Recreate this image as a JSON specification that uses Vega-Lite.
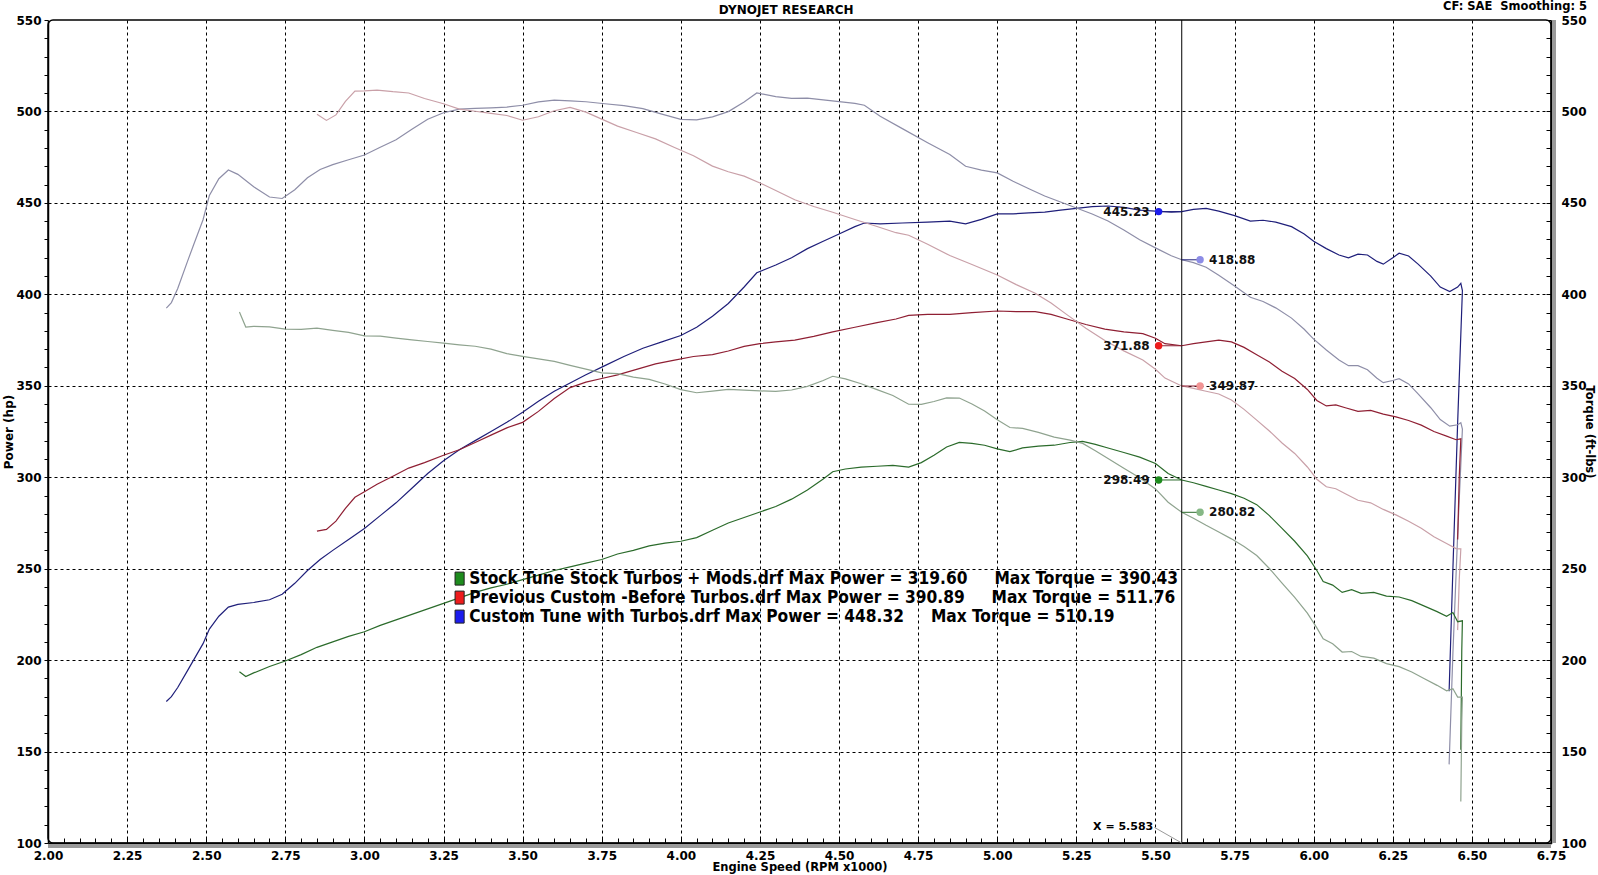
{
"$schema": "https://vega.github.io/schema/vega-lite/v6.json",
"width": 1503, "height": 823,
"autosize": {"type": "none"},
"padding": {"left": 48, "top": 20, "right": 47, "bottom": 32},
"background": "white",
"config": {
  "view": {"stroke": "#000", "strokeWidth": 1.5, "cornerRadius": 5},
  "font": "DejaVu Sans",
  "axis": {"labelFont": "DejaVu Sans", "labelFontWeight": "bold", "labelFontSize": 12, "labelColor": "#000", "titleFont": "DejaVu Sans", "titleFontWeight": "bold", "titleFontSize": 12, "titleColor": "#000", "tickColor": "#000", "domainColor": "#000", "labelOverlap": false, "labelFlush": false}
},
"datasets": {
"curves": [
{"series":"Turbo HP","rpm":2.374,"value":177.4},{"series":"Turbo HP","rpm":2.39,"value":180},{"series":"Turbo HP","rpm":2.41,"value":185},{"series":"Turbo HP","rpm":2.44,"value":194},{"series":"Turbo HP","rpm":2.46,"value":200},{"series":"Turbo HP","rpm":2.49,"value":209},{"series":"Turbo HP","rpm":2.51,"value":217},{"series":"Turbo HP","rpm":2.54,"value":224},{"series":"Turbo HP","rpm":2.57,"value":229},{"series":"Turbo HP","rpm":2.6,"value":230.5},{"series":"Turbo HP","rpm":2.65,"value":231.5},{"series":"Turbo HP","rpm":2.7,"value":233},{"series":"Turbo HP","rpm":2.74,"value":236},{"series":"Turbo HP","rpm":2.78,"value":242},{"series":"Turbo HP","rpm":2.82,"value":249},{"series":"Turbo HP","rpm":2.86,"value":255},{"series":"Turbo HP","rpm":2.9,"value":260},{"series":"Turbo HP","rpm":2.95,"value":266},{"series":"Turbo HP","rpm":3.0,"value":272},{"series":"Turbo HP","rpm":3.05,"value":279},{"series":"Turbo HP","rpm":3.1,"value":286},{"series":"Turbo HP","rpm":3.15,"value":294},{"series":"Turbo HP","rpm":3.2,"value":302},{"series":"Turbo HP","rpm":3.25,"value":309},{"series":"Turbo HP","rpm":3.3,"value":315},{"series":"Turbo HP","rpm":3.35,"value":320},{"series":"Turbo HP","rpm":3.4,"value":325},{"series":"Turbo HP","rpm":3.45,"value":330},{"series":"Turbo HP","rpm":3.5,"value":335.5},{"series":"Turbo HP","rpm":3.55,"value":341.5},{"series":"Turbo HP","rpm":3.6,"value":347},{"series":"Turbo HP","rpm":3.65,"value":351.5},{"series":"Turbo HP","rpm":3.7,"value":356},{"series":"Turbo HP","rpm":3.76,"value":361},{"series":"Turbo HP","rpm":3.82,"value":366},{"series":"Turbo HP","rpm":3.88,"value":370.5},{"series":"Turbo HP","rpm":3.94,"value":374},{"series":"Turbo HP","rpm":4.0,"value":377.5},{"series":"Turbo HP","rpm":4.05,"value":382},{"series":"Turbo HP","rpm":4.1,"value":388},{"series":"Turbo HP","rpm":4.15,"value":395},{"series":"Turbo HP","rpm":4.2,"value":404},{"series":"Turbo HP","rpm":4.24,"value":411.8},{"series":"Turbo HP","rpm":4.3,"value":416},{"series":"Turbo HP","rpm":4.35,"value":420},{"series":"Turbo HP","rpm":4.4,"value":425},{"series":"Turbo HP","rpm":4.45,"value":429},{"series":"Turbo HP","rpm":4.5,"value":433},{"series":"Turbo HP","rpm":4.55,"value":437},{"series":"Turbo HP","rpm":4.58,"value":439},{"series":"Turbo HP","rpm":4.63,"value":438.5},{"series":"Turbo HP","rpm":4.7,"value":439},{"series":"Turbo HP","rpm":4.78,"value":439.5},{"series":"Turbo HP","rpm":4.85,"value":440},{"series":"Turbo HP","rpm":4.9,"value":438.5},{"series":"Turbo HP","rpm":4.95,"value":441},{"series":"Turbo HP","rpm":5.0,"value":444},{"series":"Turbo HP","rpm":5.05,"value":444},{"series":"Turbo HP","rpm":5.1,"value":444.5},{"series":"Turbo HP","rpm":5.15,"value":445},{"series":"Turbo HP","rpm":5.2,"value":446},{"series":"Turbo HP","rpm":5.25,"value":447},{"series":"Turbo HP","rpm":5.3,"value":448},{"series":"Turbo HP","rpm":5.35,"value":448.3},{"series":"Turbo HP","rpm":5.4,"value":447.5},{"series":"Turbo HP","rpm":5.45,"value":446},{"series":"Turbo HP","rpm":5.5,"value":445.5},{"series":"Turbo HP","rpm":5.55,"value":445},{"series":"Turbo HP","rpm":5.583,"value":445.2},{"series":"Turbo HP","rpm":5.62,"value":446.5},{"series":"Turbo HP","rpm":5.66,"value":447},{"series":"Turbo HP","rpm":5.7,"value":445.5},{"series":"Turbo HP","rpm":5.75,"value":443},{"series":"Turbo HP","rpm":5.8,"value":440},{"series":"Turbo HP","rpm":5.84,"value":440.5},{"series":"Turbo HP","rpm":5.88,"value":439.5},{"series":"Turbo HP","rpm":5.93,"value":437},{"series":"Turbo HP","rpm":5.97,"value":433},{"series":"Turbo HP","rpm":6.0,"value":429},{"series":"Turbo HP","rpm":6.04,"value":425},{"series":"Turbo HP","rpm":6.08,"value":421.5},{"series":"Turbo HP","rpm":6.11,"value":420},{"series":"Turbo HP","rpm":6.14,"value":422},{"series":"Turbo HP","rpm":6.17,"value":421.5},{"series":"Turbo HP","rpm":6.2,"value":418},{"series":"Turbo HP","rpm":6.22,"value":416.5},{"series":"Turbo HP","rpm":6.25,"value":420},{"series":"Turbo HP","rpm":6.27,"value":422.5},{"series":"Turbo HP","rpm":6.3,"value":421},{"series":"Turbo HP","rpm":6.33,"value":416.5},{"series":"Turbo HP","rpm":6.37,"value":410},{"series":"Turbo HP","rpm":6.4,"value":404},{"series":"Turbo HP","rpm":6.43,"value":401.5},{"series":"Turbo HP","rpm":6.455,"value":404},{"series":"Turbo HP","rpm":6.465,"value":406},{"series":"Turbo HP","rpm":6.47,"value":402},{"series":"Turbo HP","rpm":6.455,"value":330},{"series":"Turbo HP","rpm":6.44,"value":250},{"series":"Turbo HP","rpm":6.428,"value":183},
{"series":"Turbo TQ","rpm":2.374,"value":392.5},{"series":"Turbo TQ","rpm":2.39,"value":395.5},{"series":"Turbo TQ","rpm":2.41,"value":403.2},{"series":"Turbo TQ","rpm":2.44,"value":417.6},{"series":"Turbo TQ","rpm":2.46,"value":427.0},{"series":"Turbo TQ","rpm":2.49,"value":440.8},{"series":"Turbo TQ","rpm":2.51,"value":454.1},{"series":"Turbo TQ","rpm":2.54,"value":463.2},{"series":"Turbo TQ","rpm":2.57,"value":468.0},{"series":"Turbo TQ","rpm":2.6,"value":465.6},{"series":"Turbo TQ","rpm":2.65,"value":458.8},{"series":"Turbo TQ","rpm":2.7,"value":453.2},{"series":"Turbo TQ","rpm":2.74,"value":452.4},{"series":"Turbo TQ","rpm":2.78,"value":457.2},{"series":"Turbo TQ","rpm":2.82,"value":463.7},{"series":"Turbo TQ","rpm":2.86,"value":468.3},{"series":"Turbo TQ","rpm":2.9,"value":470.9},{"series":"Turbo TQ","rpm":2.95,"value":473.6},{"series":"Turbo TQ","rpm":3.0,"value":476.2},{"series":"Turbo TQ","rpm":3.05,"value":480.4},{"series":"Turbo TQ","rpm":3.1,"value":484.5},{"series":"Turbo TQ","rpm":3.15,"value":490.2},{"series":"Turbo TQ","rpm":3.2,"value":495.7},{"series":"Turbo TQ","rpm":3.25,"value":499.3},{"series":"Turbo TQ","rpm":3.3,"value":501.3},{"series":"Turbo TQ","rpm":3.35,"value":501.7},{"series":"Turbo TQ","rpm":3.4,"value":502.0},{"series":"Turbo TQ","rpm":3.45,"value":502.4},{"series":"Turbo TQ","rpm":3.5,"value":503.4},{"series":"Turbo TQ","rpm":3.55,"value":505.2},{"series":"Turbo TQ","rpm":3.6,"value":506.2},{"series":"Turbo TQ","rpm":3.65,"value":505.8},{"series":"Turbo TQ","rpm":3.7,"value":505.3},{"series":"Turbo TQ","rpm":3.76,"value":504.2},{"series":"Turbo TQ","rpm":3.82,"value":503.2},{"series":"Turbo TQ","rpm":3.88,"value":501.5},{"series":"Turbo TQ","rpm":3.94,"value":498.5},{"series":"Turbo TQ","rpm":4.0,"value":495.7},{"series":"Turbo TQ","rpm":4.05,"value":495.4},{"series":"Turbo TQ","rpm":4.1,"value":497.0},{"series":"Turbo TQ","rpm":4.15,"value":499.9},{"series":"Turbo TQ","rpm":4.2,"value":505.2},{"series":"Turbo TQ","rpm":4.24,"value":510.1},{"series":"Turbo TQ","rpm":4.3,"value":508.1},{"series":"Turbo TQ","rpm":4.35,"value":507.1},{"series":"Turbo TQ","rpm":4.4,"value":507.3},{"series":"Turbo TQ","rpm":4.45,"value":506.3},{"series":"Turbo TQ","rpm":4.5,"value":505.4},{"series":"Turbo TQ","rpm":4.55,"value":504.4},{"series":"Turbo TQ","rpm":4.58,"value":503.4},{"series":"Turbo TQ","rpm":4.63,"value":497.4},{"series":"Turbo TQ","rpm":4.7,"value":490.6},{"series":"Turbo TQ","rpm":4.78,"value":482.9},{"series":"Turbo TQ","rpm":4.85,"value":476.5},{"series":"Turbo TQ","rpm":4.9,"value":470.0},{"series":"Turbo TQ","rpm":4.95,"value":467.9},{"series":"Turbo TQ","rpm":5.0,"value":466.4},{"series":"Turbo TQ","rpm":5.05,"value":461.8},{"series":"Turbo TQ","rpm":5.1,"value":457.7},{"series":"Turbo TQ","rpm":5.15,"value":453.8},{"series":"Turbo TQ","rpm":5.2,"value":450.5},{"series":"Turbo TQ","rpm":5.25,"value":447.2},{"series":"Turbo TQ","rpm":5.3,"value":443.9},{"series":"Turbo TQ","rpm":5.35,"value":440.1},{"series":"Turbo TQ","rpm":5.4,"value":435.2},{"series":"Turbo TQ","rpm":5.45,"value":429.8},{"series":"Turbo TQ","rpm":5.5,"value":425.4},{"series":"Turbo TQ","rpm":5.55,"value":421.1},{"series":"Turbo TQ","rpm":5.583,"value":418.9},{"series":"Turbo TQ","rpm":5.62,"value":417.3},{"series":"Turbo TQ","rpm":5.66,"value":414.8},{"series":"Turbo TQ","rpm":5.7,"value":410.5},{"series":"Turbo TQ","rpm":5.75,"value":404.6},{"series":"Turbo TQ","rpm":5.8,"value":398.4},{"series":"Turbo TQ","rpm":5.84,"value":396.1},{"series":"Turbo TQ","rpm":5.88,"value":392.6},{"series":"Turbo TQ","rpm":5.93,"value":387.0},{"series":"Turbo TQ","rpm":5.97,"value":380.9},{"series":"Turbo TQ","rpm":6.0,"value":375.5},{"series":"Turbo TQ","rpm":6.04,"value":369.6},{"series":"Turbo TQ","rpm":6.08,"value":364.1},{"series":"Turbo TQ","rpm":6.11,"value":361.0},{"series":"Turbo TQ","rpm":6.14,"value":361.0},{"series":"Turbo TQ","rpm":6.17,"value":358.8},{"series":"Turbo TQ","rpm":6.2,"value":354.1},{"series":"Turbo TQ","rpm":6.22,"value":351.7},{"series":"Turbo TQ","rpm":6.25,"value":352.9},{"series":"Turbo TQ","rpm":6.27,"value":353.9},{"series":"Turbo TQ","rpm":6.3,"value":351.0},{"series":"Turbo TQ","rpm":6.33,"value":345.6},{"series":"Turbo TQ","rpm":6.37,"value":338.0},{"series":"Turbo TQ","rpm":6.4,"value":331.5},{"series":"Turbo TQ","rpm":6.43,"value":327.9},{"series":"Turbo TQ","rpm":6.455,"value":328.7},{"series":"Turbo TQ","rpm":6.465,"value":329.8},{"series":"Turbo TQ","rpm":6.47,"value":326.3},{"series":"Turbo TQ","rpm":6.455,"value":268.5},{"series":"Turbo TQ","rpm":6.44,"value":203.9},{"series":"Turbo TQ","rpm":6.428,"value":143},
{"series":"Prev HP","rpm":2.85,"value":270.5},{"series":"Prev HP","rpm":2.88,"value":271.5},{"series":"Prev HP","rpm":2.91,"value":276},{"series":"Prev HP","rpm":2.94,"value":283},{"series":"Prev HP","rpm":2.97,"value":289},{"series":"Prev HP","rpm":3.0,"value":292},{"series":"Prev HP","rpm":3.04,"value":296.2},{"series":"Prev HP","rpm":3.09,"value":300.5},{"series":"Prev HP","rpm":3.14,"value":305},{"series":"Prev HP","rpm":3.19,"value":308},{"series":"Prev HP","rpm":3.25,"value":312},{"series":"Prev HP","rpm":3.3,"value":315},{"series":"Prev HP","rpm":3.35,"value":319},{"series":"Prev HP","rpm":3.4,"value":323},{"series":"Prev HP","rpm":3.45,"value":327},{"series":"Prev HP","rpm":3.5,"value":330},{"series":"Prev HP","rpm":3.55,"value":336},{"series":"Prev HP","rpm":3.6,"value":343},{"series":"Prev HP","rpm":3.65,"value":349},{"series":"Prev HP","rpm":3.7,"value":352},{"series":"Prev HP","rpm":3.75,"value":354},{"series":"Prev HP","rpm":3.8,"value":356},{"series":"Prev HP","rpm":3.86,"value":359},{"series":"Prev HP","rpm":3.92,"value":362},{"series":"Prev HP","rpm":3.98,"value":364},{"series":"Prev HP","rpm":4.04,"value":366},{"series":"Prev HP","rpm":4.1,"value":367},{"series":"Prev HP","rpm":4.15,"value":369},{"series":"Prev HP","rpm":4.2,"value":371.5},{"series":"Prev HP","rpm":4.25,"value":373},{"series":"Prev HP","rpm":4.3,"value":374},{"series":"Prev HP","rpm":4.36,"value":375},{"series":"Prev HP","rpm":4.42,"value":377},{"series":"Prev HP","rpm":4.48,"value":379.5},{"series":"Prev HP","rpm":4.55,"value":382},{"series":"Prev HP","rpm":4.62,"value":384.5},{"series":"Prev HP","rpm":4.68,"value":386.5},{"series":"Prev HP","rpm":4.72,"value":388.5},{"series":"Prev HP","rpm":4.78,"value":389},{"series":"Prev HP","rpm":4.85,"value":389},{"series":"Prev HP","rpm":4.92,"value":390},{"series":"Prev HP","rpm":5.0,"value":390.9},{"series":"Prev HP","rpm":5.06,"value":390.5},{"series":"Prev HP","rpm":5.12,"value":390.5},{"series":"Prev HP","rpm":5.17,"value":389},{"series":"Prev HP","rpm":5.22,"value":386.5},{"series":"Prev HP","rpm":5.28,"value":383.5},{"series":"Prev HP","rpm":5.34,"value":381},{"series":"Prev HP","rpm":5.4,"value":379.5},{"series":"Prev HP","rpm":5.46,"value":378.5},{"series":"Prev HP","rpm":5.5,"value":376},{"series":"Prev HP","rpm":5.53,"value":373},{"series":"Prev HP","rpm":5.583,"value":371.9},{"series":"Prev HP","rpm":5.62,"value":373},{"series":"Prev HP","rpm":5.66,"value":374},{"series":"Prev HP","rpm":5.7,"value":375},{"series":"Prev HP","rpm":5.74,"value":374},{"series":"Prev HP","rpm":5.78,"value":371},{"series":"Prev HP","rpm":5.82,"value":367},{"series":"Prev HP","rpm":5.86,"value":363},{"series":"Prev HP","rpm":5.9,"value":358},{"series":"Prev HP","rpm":5.94,"value":354},{"series":"Prev HP","rpm":5.98,"value":348},{"series":"Prev HP","rpm":6.01,"value":342},{"series":"Prev HP","rpm":6.04,"value":339},{"series":"Prev HP","rpm":6.07,"value":339.5},{"series":"Prev HP","rpm":6.1,"value":338},{"series":"Prev HP","rpm":6.14,"value":336},{"series":"Prev HP","rpm":6.18,"value":336.5},{"series":"Prev HP","rpm":6.22,"value":334.5},{"series":"Prev HP","rpm":6.26,"value":333},{"series":"Prev HP","rpm":6.3,"value":331},{"series":"Prev HP","rpm":6.34,"value":328.5},{"series":"Prev HP","rpm":6.38,"value":325},{"series":"Prev HP","rpm":6.42,"value":322.5},{"series":"Prev HP","rpm":6.45,"value":320.5},{"series":"Prev HP","rpm":6.465,"value":321},{"series":"Prev HP","rpm":6.46,"value":300},{"series":"Prev HP","rpm":6.455,"value":266},
{"series":"Prev TQ","rpm":2.85,"value":498.5},{"series":"Prev TQ","rpm":2.88,"value":495.1},{"series":"Prev TQ","rpm":2.91,"value":498.1},{"series":"Prev TQ","rpm":2.94,"value":505.5},{"series":"Prev TQ","rpm":2.97,"value":511.1},{"series":"Prev TQ","rpm":3.0,"value":511.2},{"series":"Prev TQ","rpm":3.04,"value":511.7},{"series":"Prev TQ","rpm":3.09,"value":510.8},{"series":"Prev TQ","rpm":3.14,"value":510.1},{"series":"Prev TQ","rpm":3.19,"value":507.1},{"series":"Prev TQ","rpm":3.25,"value":504.2},{"series":"Prev TQ","rpm":3.3,"value":501.3},{"series":"Prev TQ","rpm":3.35,"value":500.1},{"series":"Prev TQ","rpm":3.4,"value":498.9},{"series":"Prev TQ","rpm":3.45,"value":497.8},{"series":"Prev TQ","rpm":3.5,"value":495.2},{"series":"Prev TQ","rpm":3.55,"value":497.1},{"series":"Prev TQ","rpm":3.6,"value":500.4},{"series":"Prev TQ","rpm":3.65,"value":502.2},{"series":"Prev TQ","rpm":3.7,"value":499.6},{"series":"Prev TQ","rpm":3.75,"value":495.8},{"series":"Prev TQ","rpm":3.8,"value":492.0},{"series":"Prev TQ","rpm":3.86,"value":488.5},{"series":"Prev TQ","rpm":3.92,"value":485.0},{"series":"Prev TQ","rpm":3.98,"value":480.3},{"series":"Prev TQ","rpm":4.04,"value":475.8},{"series":"Prev TQ","rpm":4.1,"value":470.1},{"series":"Prev TQ","rpm":4.15,"value":467.0},{"series":"Prev TQ","rpm":4.2,"value":464.6},{"series":"Prev TQ","rpm":4.25,"value":460.9},{"series":"Prev TQ","rpm":4.3,"value":456.8},{"series":"Prev TQ","rpm":4.36,"value":451.7},{"series":"Prev TQ","rpm":4.42,"value":448.0},{"series":"Prev TQ","rpm":4.48,"value":444.9},{"series":"Prev TQ","rpm":4.55,"value":440.9},{"series":"Prev TQ","rpm":4.62,"value":437.1},{"series":"Prev TQ","rpm":4.68,"value":433.7},{"series":"Prev TQ","rpm":4.72,"value":432.3},{"series":"Prev TQ","rpm":4.78,"value":427.4},{"series":"Prev TQ","rpm":4.85,"value":421.2},{"series":"Prev TQ","rpm":4.92,"value":416.3},{"series":"Prev TQ","rpm":5.0,"value":410.6},{"series":"Prev TQ","rpm":5.06,"value":405.3},{"series":"Prev TQ","rpm":5.12,"value":400.6},{"series":"Prev TQ","rpm":5.17,"value":395.2},{"series":"Prev TQ","rpm":5.22,"value":388.9},{"series":"Prev TQ","rpm":5.28,"value":381.5},{"series":"Prev TQ","rpm":5.34,"value":374.7},{"series":"Prev TQ","rpm":5.4,"value":369.1},{"series":"Prev TQ","rpm":5.46,"value":364.1},{"series":"Prev TQ","rpm":5.5,"value":359.0},{"series":"Prev TQ","rpm":5.53,"value":354.2},{"series":"Prev TQ","rpm":5.583,"value":349.9},{"series":"Prev TQ","rpm":5.62,"value":348.6},{"series":"Prev TQ","rpm":5.66,"value":347.0},{"series":"Prev TQ","rpm":5.7,"value":345.5},{"series":"Prev TQ","rpm":5.74,"value":342.2},{"series":"Prev TQ","rpm":5.78,"value":337.1},{"series":"Prev TQ","rpm":5.82,"value":331.2},{"series":"Prev TQ","rpm":5.86,"value":325.3},{"series":"Prev TQ","rpm":5.9,"value":318.7},{"series":"Prev TQ","rpm":5.94,"value":313.0},{"series":"Prev TQ","rpm":5.98,"value":305.6},{"series":"Prev TQ","rpm":6.01,"value":298.9},{"series":"Prev TQ","rpm":6.04,"value":294.8},{"series":"Prev TQ","rpm":6.07,"value":293.7},{"series":"Prev TQ","rpm":6.1,"value":291.0},{"series":"Prev TQ","rpm":6.14,"value":287.4},{"series":"Prev TQ","rpm":6.18,"value":286.0},{"series":"Prev TQ","rpm":6.22,"value":282.4},{"series":"Prev TQ","rpm":6.26,"value":279.4},{"series":"Prev TQ","rpm":6.3,"value":275.9},{"series":"Prev TQ","rpm":6.34,"value":272.1},{"series":"Prev TQ","rpm":6.38,"value":267.5},{"series":"Prev TQ","rpm":6.42,"value":263.8},{"series":"Prev TQ","rpm":6.45,"value":261.0},{"series":"Prev TQ","rpm":6.465,"value":260.8},{"series":"Prev TQ","rpm":6.46,"value":243.9},{"series":"Prev TQ","rpm":6.455,"value":216.4},
{"series":"Stock HP","rpm":2.605,"value":193.6},{"series":"Stock HP","rpm":2.625,"value":191},{"series":"Stock HP","rpm":2.65,"value":193},{"series":"Stock HP","rpm":2.7,"value":196.5},{"series":"Stock HP","rpm":2.75,"value":199.5},{"series":"Stock HP","rpm":2.8,"value":203},{"series":"Stock HP","rpm":2.85,"value":207},{"series":"Stock HP","rpm":2.9,"value":210},{"series":"Stock HP","rpm":2.95,"value":213},{"series":"Stock HP","rpm":3.0,"value":215.5},{"series":"Stock HP","rpm":3.05,"value":219},{"series":"Stock HP","rpm":3.1,"value":222},{"series":"Stock HP","rpm":3.15,"value":225},{"series":"Stock HP","rpm":3.2,"value":228},{"series":"Stock HP","rpm":3.25,"value":231},{"series":"Stock HP","rpm":3.3,"value":234},{"series":"Stock HP","rpm":3.35,"value":237},{"series":"Stock HP","rpm":3.4,"value":239.5},{"series":"Stock HP","rpm":3.45,"value":241.5},{"series":"Stock HP","rpm":3.5,"value":244},{"series":"Stock HP","rpm":3.55,"value":246.5},{"series":"Stock HP","rpm":3.6,"value":249},{"series":"Stock HP","rpm":3.65,"value":251},{"series":"Stock HP","rpm":3.7,"value":253},{"series":"Stock HP","rpm":3.75,"value":255},{"series":"Stock HP","rpm":3.8,"value":258},{"series":"Stock HP","rpm":3.85,"value":260},{"series":"Stock HP","rpm":3.9,"value":262.5},{"series":"Stock HP","rpm":3.95,"value":264},{"series":"Stock HP","rpm":4.0,"value":265},{"series":"Stock HP","rpm":4.05,"value":267},{"series":"Stock HP","rpm":4.1,"value":271},{"series":"Stock HP","rpm":4.15,"value":275},{"series":"Stock HP","rpm":4.2,"value":278},{"series":"Stock HP","rpm":4.25,"value":281},{"series":"Stock HP","rpm":4.3,"value":284},{"series":"Stock HP","rpm":4.35,"value":288},{"series":"Stock HP","rpm":4.4,"value":293},{"series":"Stock HP","rpm":4.45,"value":299},{"series":"Stock HP","rpm":4.48,"value":303},{"series":"Stock HP","rpm":4.52,"value":304.5},{"series":"Stock HP","rpm":4.57,"value":305.5},{"series":"Stock HP","rpm":4.62,"value":306},{"series":"Stock HP","rpm":4.67,"value":306.5},{"series":"Stock HP","rpm":4.72,"value":305.5},{"series":"Stock HP","rpm":4.76,"value":308},{"series":"Stock HP","rpm":4.8,"value":312},{"series":"Stock HP","rpm":4.84,"value":316.5},{"series":"Stock HP","rpm":4.88,"value":319},{"series":"Stock HP","rpm":4.92,"value":318.5},{"series":"Stock HP","rpm":4.96,"value":317.5},{"series":"Stock HP","rpm":5.0,"value":315.5},{"series":"Stock HP","rpm":5.04,"value":314},{"series":"Stock HP","rpm":5.08,"value":316},{"series":"Stock HP","rpm":5.13,"value":317},{"series":"Stock HP","rpm":5.18,"value":317.5},{"series":"Stock HP","rpm":5.23,"value":319},{"series":"Stock HP","rpm":5.27,"value":319.6},{"series":"Stock HP","rpm":5.31,"value":318},{"series":"Stock HP","rpm":5.35,"value":316},{"series":"Stock HP","rpm":5.4,"value":313.5},{"series":"Stock HP","rpm":5.45,"value":311},{"series":"Stock HP","rpm":5.5,"value":307.5},{"series":"Stock HP","rpm":5.54,"value":302},{"series":"Stock HP","rpm":5.583,"value":298.5},{"series":"Stock HP","rpm":5.62,"value":297},{"series":"Stock HP","rpm":5.66,"value":295},{"series":"Stock HP","rpm":5.7,"value":293},{"series":"Stock HP","rpm":5.74,"value":291},{"series":"Stock HP","rpm":5.78,"value":288.5},{"series":"Stock HP","rpm":5.82,"value":285},{"series":"Stock HP","rpm":5.86,"value":279},{"series":"Stock HP","rpm":5.9,"value":272},{"series":"Stock HP","rpm":5.94,"value":265},{"series":"Stock HP","rpm":5.98,"value":257},{"series":"Stock HP","rpm":6.01,"value":249},{"series":"Stock HP","rpm":6.03,"value":243},{"series":"Stock HP","rpm":6.06,"value":241},{"series":"Stock HP","rpm":6.09,"value":237},{"series":"Stock HP","rpm":6.12,"value":238.5},{"series":"Stock HP","rpm":6.15,"value":236.5},{"series":"Stock HP","rpm":6.19,"value":237},{"series":"Stock HP","rpm":6.23,"value":235},{"series":"Stock HP","rpm":6.27,"value":234.5},{"series":"Stock HP","rpm":6.31,"value":232.5},{"series":"Stock HP","rpm":6.35,"value":229.5},{"series":"Stock HP","rpm":6.39,"value":226.5},{"series":"Stock HP","rpm":6.42,"value":224},{"series":"Stock HP","rpm":6.44,"value":226},{"series":"Stock HP","rpm":6.455,"value":221},{"series":"Stock HP","rpm":6.47,"value":221.5},{"series":"Stock HP","rpm":6.468,"value":205},{"series":"Stock HP","rpm":6.466,"value":170},{"series":"Stock HP","rpm":6.465,"value":151},
{"series":"Stock TQ","rpm":2.605,"value":390.3},{"series":"Stock TQ","rpm":2.625,"value":382.1},{"series":"Stock TQ","rpm":2.65,"value":382.5},{"series":"Stock TQ","rpm":2.7,"value":382.2},{"series":"Stock TQ","rpm":2.75,"value":381.0},{"series":"Stock TQ","rpm":2.8,"value":380.8},{"series":"Stock TQ","rpm":2.85,"value":381.5},{"series":"Stock TQ","rpm":2.9,"value":380.3},{"series":"Stock TQ","rpm":2.95,"value":379.2},{"series":"Stock TQ","rpm":3.0,"value":377.3},{"series":"Stock TQ","rpm":3.05,"value":377.1},{"series":"Stock TQ","rpm":3.1,"value":376.1},{"series":"Stock TQ","rpm":3.15,"value":375.1},{"series":"Stock TQ","rpm":3.2,"value":374.2},{"series":"Stock TQ","rpm":3.25,"value":373.3},{"series":"Stock TQ","rpm":3.3,"value":372.4},{"series":"Stock TQ","rpm":3.35,"value":371.6},{"series":"Stock TQ","rpm":3.4,"value":370.0},{"series":"Stock TQ","rpm":3.45,"value":367.6},{"series":"Stock TQ","rpm":3.5,"value":366.1},{"series":"Stock TQ","rpm":3.55,"value":364.7},{"series":"Stock TQ","rpm":3.6,"value":363.3},{"series":"Stock TQ","rpm":3.65,"value":361.2},{"series":"Stock TQ","rpm":3.7,"value":359.1},{"series":"Stock TQ","rpm":3.75,"value":357.1},{"series":"Stock TQ","rpm":3.8,"value":356.6},{"series":"Stock TQ","rpm":3.85,"value":354.7},{"series":"Stock TQ","rpm":3.9,"value":353.5},{"series":"Stock TQ","rpm":3.95,"value":351.0},{"series":"Stock TQ","rpm":4.0,"value":347.9},{"series":"Stock TQ","rpm":4.05,"value":346.2},{"series":"Stock TQ","rpm":4.1,"value":347.1},{"series":"Stock TQ","rpm":4.15,"value":348.0},{"series":"Stock TQ","rpm":4.2,"value":347.6},{"series":"Stock TQ","rpm":4.25,"value":347.2},{"series":"Stock TQ","rpm":4.3,"value":346.9},{"series":"Stock TQ","rpm":4.35,"value":347.7},{"series":"Stock TQ","rpm":4.4,"value":349.7},{"series":"Stock TQ","rpm":4.45,"value":352.9},{"series":"Stock TQ","rpm":4.48,"value":355.2},{"series":"Stock TQ","rpm":4.52,"value":353.8},{"series":"Stock TQ","rpm":4.57,"value":351.1},{"series":"Stock TQ","rpm":4.62,"value":347.9},{"series":"Stock TQ","rpm":4.67,"value":344.7},{"series":"Stock TQ","rpm":4.72,"value":339.9},{"series":"Stock TQ","rpm":4.76,"value":339.8},{"series":"Stock TQ","rpm":4.8,"value":341.4},{"series":"Stock TQ","rpm":4.84,"value":343.4},{"series":"Stock TQ","rpm":4.88,"value":343.3},{"series":"Stock TQ","rpm":4.92,"value":340.0},{"series":"Stock TQ","rpm":4.96,"value":336.2},{"series":"Stock TQ","rpm":5.0,"value":331.4},{"series":"Stock TQ","rpm":5.04,"value":327.2},{"series":"Stock TQ","rpm":5.08,"value":326.7},{"series":"Stock TQ","rpm":5.13,"value":324.5},{"series":"Stock TQ","rpm":5.18,"value":321.9},{"series":"Stock TQ","rpm":5.23,"value":320.3},{"series":"Stock TQ","rpm":5.27,"value":318.5},{"series":"Stock TQ","rpm":5.31,"value":314.5},{"series":"Stock TQ","rpm":5.35,"value":310.2},{"series":"Stock TQ","rpm":5.4,"value":304.9},{"series":"Stock TQ","rpm":5.45,"value":299.7},{"series":"Stock TQ","rpm":5.5,"value":293.6},{"series":"Stock TQ","rpm":5.54,"value":286.3},{"series":"Stock TQ","rpm":5.583,"value":280.8},{"series":"Stock TQ","rpm":5.62,"value":277.6},{"series":"Stock TQ","rpm":5.66,"value":273.7},{"series":"Stock TQ","rpm":5.7,"value":270.0},{"series":"Stock TQ","rpm":5.74,"value":266.3},{"series":"Stock TQ","rpm":5.78,"value":262.1},{"series":"Stock TQ","rpm":5.82,"value":257.2},{"series":"Stock TQ","rpm":5.86,"value":250.1},{"series":"Stock TQ","rpm":5.9,"value":242.1},{"series":"Stock TQ","rpm":5.94,"value":234.3},{"series":"Stock TQ","rpm":5.98,"value":225.7},{"series":"Stock TQ","rpm":6.01,"value":217.6},{"series":"Stock TQ","rpm":6.03,"value":211.6},{"series":"Stock TQ","rpm":6.06,"value":208.9},{"series":"Stock TQ","rpm":6.09,"value":204.4},{"series":"Stock TQ","rpm":6.12,"value":204.7},{"series":"Stock TQ","rpm":6.15,"value":202.0},{"series":"Stock TQ","rpm":6.19,"value":201.1},{"series":"Stock TQ","rpm":6.23,"value":198.1},{"series":"Stock TQ","rpm":6.27,"value":196.4},{"series":"Stock TQ","rpm":6.31,"value":193.5},{"series":"Stock TQ","rpm":6.35,"value":189.8},{"series":"Stock TQ","rpm":6.39,"value":186.2},{"series":"Stock TQ","rpm":6.42,"value":183.2},{"series":"Stock TQ","rpm":6.44,"value":184.3},{"series":"Stock TQ","rpm":6.455,"value":179.8},{"series":"Stock TQ","rpm":6.47,"value":179.8},{"series":"Stock TQ","rpm":6.468,"value":166.5},{"series":"Stock TQ","rpm":6.466,"value":138.1},{"series":"Stock TQ","rpm":6.465,"value":122.7}
],
"cursor": [
{"run":"Stock","hpSeries":"Stock HP","legend":"Stock Tune Stock Turbos + Mods.drf Max Power = 319.60\u00a0\u00a0\u00a0\u00a0\u00a0Max Torque = 390.43","hp":298.49,"tq":280.82},
{"run":"Prev","hpSeries":"Prev HP","legend":"Previous Custom -Before Turbos.drf Max Power = 390.89\u00a0\u00a0\u00a0\u00a0\u00a0Max Torque = 511.76","hp":371.88,"tq":349.87},
{"run":"Turbo","hpSeries":"Turbo HP","legend":"Custom Tune with Turbos.drf Max Power = 448.32\u00a0\u00a0\u00a0\u00a0\u00a0Max Torque = 510.19","hp":445.23,"tq":418.88}
]
},
"layer": [
{
  "data": {"values": [{}]},
  "mark": {"type": "rule", "color": "#9a9a9a", "strokeWidth": 4, "yOffset": 3},
  "encoding": {"y": {"datum": 100, "type": "quantitative", "axis": null}}
},
{
  "data": {"values": [{}]},
  "mark": {"type": "rule", "color": "#9a9a9a", "strokeWidth": 4, "xOffset": 3},
  "encoding": {"x": {"datum": 6.75, "type": "quantitative"}}
},
{
  "data": {"name": "curves"},
  "mark": {"type": "line", "strokeWidth": 1.2},
  "encoding": {
    "x": {"field": "rpm", "type": "quantitative", "scale": {"domain": [2, 6.75], "nice": false, "zero": false},
      "axis": {"title": "Engine Speed (RPM x1000)", "tickCount": 95,
        "labelExpr": "abs(datum.value*4-round(datum.value*4))<0.001 ? format(datum.value,'.2f') : ''",
        "labelPadding": 12.5, "tickSize": -5, "tickWidth": 1, "domainWidth": 2, "titlePadding": 0, "titleFontSize": 11.5,
        "grid": true, "gridColor": "#000", "gridDash": [3, 3], "gridWidth": 1,
        "gridOpacity": {"condition": {"test": "abs(datum.value*4-round(datum.value*4))<0.001 && datum.value>2.01 && datum.value<6.74", "value": 1}, "value": 0}}},
    "y": {"field": "value", "type": "quantitative", "scale": {"domain": [100, 550], "nice": false, "zero": false},
      "axis": {"orient": "left", "title": "Power (hp)", "tickCount": 45,
        "labelExpr": "datum.value % 50 == 0 ? format(datum.value,'d') : ''",
        "labelPadding": 3, "tickSize": 4, "tickWidth": 1, "domainWidth": 1.5, "titlePadding": 0,
        "grid": true, "gridColor": "#000", "gridDash": [3, 3], "gridWidth": 1,
        "gridOpacity": {"condition": {"test": "datum.value % 50 == 0 && datum.value > 100 && datum.value < 550", "value": 1}, "value": 0}}},
    "color": {"field": "series", "type": "nominal", "legend": null,
      "scale": {"domain": ["Stock HP", "Stock TQ", "Prev HP", "Prev TQ", "Turbo HP", "Turbo TQ"],
                "range": ["#2b6b2b", "#8fa38f", "#8f1f33", "#c9a0a8", "#1f1f7a", "#8e8ea8"]}},
    "detail": {"field": "series"},
    "order": {"value": null}
  }
},
{
  "data": {"values": [{}]},
  "mark": {"type": "rule", "color": "#000", "strokeWidth": 1},
  "encoding": {"x": {"datum": 5.583, "type": "quantitative"}}
},
{
  "data": {"values": [{}]},
  "mark": {"type": "rule", "color": "#999", "strokeWidth": 1},
  "encoding": {"x": {"datum": 5.497, "type": "quantitative"}, "x2": {"datum": 5.583}, "y": {"datum": 108.5, "type": "quantitative", "axis": null}, "y2": {"datum": 100}}
},
{
  "data": {"values": [{}]},
  "mark": {"type": "text", "text": "X = 5.583", "align": "right", "baseline": "middle", "font": "DejaVu Sans", "fontSize": 11, "fontWeight": "bold", "color": "#000"},
  "encoding": {"x": {"datum": 5.493, "type": "quantitative"}, "y": {"datum": 108.5, "type": "quantitative", "axis": null}}
},
{
  "data": {"name": "cursor"},
  "mark": {"type": "rule", "strokeWidth": 1},
  "encoding": {"x": {"datum": 5.51, "type": "quantitative"}, "x2": {"datum": 5.583}, "y": {"field": "hp", "type": "quantitative", "axis": null}, "color": {"field": "hpSeries", "type": "nominal", "legend": null}}
},
{
  "data": {"name": "cursor"},
  "mark": {"type": "rule", "strokeWidth": 1},
  "encoding": {"x": {"datum": 5.583, "type": "quantitative"}, "x2": {"datum": 5.641}, "y": {"field": "tq", "type": "quantitative", "axis": null}, "color": {"field": "hpSeries", "type": "nominal", "legend": null}}
},
{
  "data": {"name": "cursor"},
  "mark": {"type": "point", "filled": true, "size": 55, "opacity": 1, "shape": "circle"},
  "encoding": {"x": {"datum": 5.51, "type": "quantitative"}, "y": {"field": "hp", "type": "quantitative", "axis": null},
    "fill": {"field": "legend", "type": "nominal",
      "scale": {"domain": ["Stock Tune Stock Turbos + Mods.drf Max Power = 319.60\u00a0\u00a0\u00a0\u00a0\u00a0Max Torque = 390.43", "Previous Custom -Before Turbos.drf Max Power = 390.89\u00a0\u00a0\u00a0\u00a0\u00a0Max Torque = 511.76", "Custom Tune with Turbos.drf Max Power = 448.32\u00a0\u00a0\u00a0\u00a0\u00a0Max Torque = 510.19"],
                "range": ["#1e8c1e", "#ee1c1c", "#1c1cee"]},
      "legend": {"orient": "none", "legendX": 403, "legendY": 550, "title": null, "padding": 0, "offset": 0, "rowPadding": 0,
        "symbolType": "M-0.7,-1L0.7,-1L0.7,1L-0.7,1Z", "symbolSize": 169, "symbolStrokeColor": "#222", "symbolStrokeWidth": 1, "symbolOpacity": 1,
        "labelFont": "DejaVu Sans Condensed, DejaVu Sans", "labelFontWeight": "bold", "labelFontSize": 17.2, "labelColor": "#000", "labelLimit": 2000, "labelOffset": 1}}}
},
{
  "data": {"name": "cursor"},
  "mark": {"type": "point", "filled": true, "size": 55, "opacity": 1, "shape": "circle"},
  "encoding": {"x": {"datum": 5.641, "type": "quantitative"},
    "y": {"field": "tq", "type": "quantitative",
      "axis": {"orient": "right", "title": "Torque (ft-lbs)", "tickCount": 45,
        "labelExpr": "datum.value % 50 == 0 ? format(datum.value,'d') : ''",
        "labelPadding": 15, "tickSize": -5, "tickWidth": 1, "domainWidth": 2, "titlePadding": -3, "titleFontSize": 11.5, "grid": false}},
    "fill": {"field": "run", "type": "nominal", "legend": null,
      "scale": {"domain": ["Stock", "Prev", "Turbo"], "range": ["#86b886", "#f29595", "#8c8ce6"]}}}
},
{
  "data": {"name": "cursor"},
  "mark": {"type": "text", "align": "right", "baseline": "middle", "dx": -9, "font": "DejaVu Sans", "fontSize": 12, "fontWeight": "bold", "color": "#111"},
  "encoding": {"x": {"datum": 5.51, "type": "quantitative"}, "y": {"field": "hp", "type": "quantitative", "axis": null}, "text": {"field": "hp", "format": ".2f"}}
},
{
  "data": {"name": "cursor"},
  "mark": {"type": "text", "align": "left", "baseline": "middle", "dx": 9, "font": "DejaVu Sans", "fontSize": 12, "fontWeight": "bold", "color": "#111"},
  "encoding": {"x": {"datum": 5.641, "type": "quantitative"}, "y": {"field": "tq", "type": "quantitative", "axis": null}, "text": {"field": "tq", "format": ".2f"}}
},
{
  "data": {"values": [{}]},
  "mark": {"type": "text", "text": "DYNOJET RESEARCH", "align": "center", "baseline": "middle", "dy": -10, "font": "DejaVu Sans", "fontSize": 12, "fontWeight": "bold", "color": "#000"},
  "encoding": {"x": {"datum": 4.333, "type": "quantitative"}, "y": {"datum": 550, "type": "quantitative", "axis": null}}
},
{
  "data": {"values": [{}]},
  "mark": {"type": "text", "text": "CF: SAE\u00a0\u00a0Smoothing: 5", "align": "right", "baseline": "middle", "dx": 36, "dy": -13, "font": "DejaVu Sans", "fontSize": 11.5, "fontWeight": "bold", "color": "#000"},
  "encoding": {"x": {"datum": 6.75, "type": "quantitative"}, "y": {"datum": 550, "type": "quantitative", "axis": null}}
}
],
"resolve": {"axis": {"y": "independent"}, "scale": {"fill": "independent"}, "legend": {"fill": "independent"}}
}
